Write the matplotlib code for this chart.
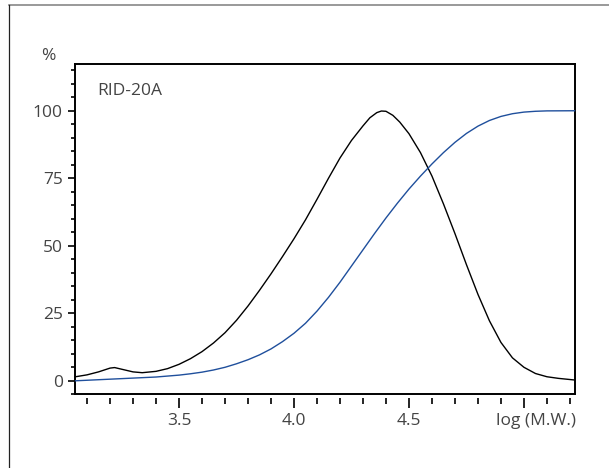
import numpy as np
import matplotlib
matplotlib.use("Agg")
import matplotlib.pyplot as plt
from matplotlib.lines import Line2D
from matplotlib.ticker import MultipleLocator, FixedLocator

plt.rcParams['font.family'] = ['Open Sans', 'DejaVu Sans']

# --- data ---
# molecular weight distribution (black)
dist_logmw = [3.05, 3.10, 3.15, 3.20, 3.22, 3.25, 3.30, 3.34, 3.40, 3.45,
              3.50, 3.55, 3.60, 3.65, 3.70, 3.75, 3.80, 3.85, 3.90, 3.95,
              4.00, 4.05, 4.10, 4.15, 4.20, 4.25, 4.30, 4.33, 4.36, 4.38,
              4.40, 4.43, 4.46, 4.50, 4.55, 4.60, 4.65, 4.70, 4.75, 4.80,
              4.85, 4.90, 4.95, 5.00, 5.05, 5.10, 5.15, 5.22]
dist_pct = [1.5, 2.2, 3.3, 4.7, 4.9, 4.3, 3.3, 3.0, 3.5, 4.5,
            6.1, 8.2, 10.8, 14.0, 17.8, 22.4, 27.7, 33.5, 39.6, 46.0,
            52.6, 59.6, 67.2, 75.0, 82.5, 89.0, 94.4, 97.4, 99.3, 99.9,
            99.8, 98.3, 95.8, 91.5, 84.5, 75.8, 65.5, 54.5, 43.0, 32.0,
            22.2, 14.2, 8.5, 5.0, 2.7, 1.5, 0.9, 0.3]

# cumulative curve (blue)
cum_logmw = [3.05, 3.10, 3.20, 3.30, 3.40, 3.50, 3.55, 3.60, 3.65, 3.70,
             3.75, 3.80, 3.85, 3.90, 3.95, 4.00, 4.05, 4.10, 4.15, 4.20,
             4.25, 4.30, 4.35, 4.40, 4.45, 4.50, 4.55, 4.60, 4.65, 4.70,
             4.75, 4.80, 4.85, 4.90, 4.95, 5.00, 5.05, 5.10, 5.22]
cum_pct = [0.0, 0.2, 0.6, 1.0, 1.4, 2.1, 2.6, 3.2, 4.0, 5.0,
           6.3, 7.8, 9.6, 11.8, 14.5, 17.6, 21.3, 25.8, 30.9, 36.5,
           42.5, 48.5, 54.5, 60.3, 65.8, 71.0, 75.8, 80.3, 84.5, 88.3,
           91.6, 94.3, 96.4, 97.9, 98.9, 99.5, 99.8, 99.95, 100.0]

y_ticks = [0, 25, 50, 75, 100]
x_ticks = [3.5, 4.0, 4.5, 5.0]
x_ticklabels = ["3.5", "4.0", "4.5", ""]

text_color = "#444444"
fs = 12.5

fig = plt.figure(figsize=(6.09, 4.68), dpi=100)
ax = fig.add_axes([75.3 / 609, 1 - 394.3 / 468, (575 - 75.3) / 609, (394.3 - 64.3) / 468])

ax.plot(dist_logmw, dist_pct, color="black", lw=1.0, clip_on=False, zorder=3,
        solid_joinstyle="round")
ax.plot(cum_logmw, cum_pct, color="#1f4f9c", lw=1.0, clip_on=False, zorder=3,
        solid_joinstyle="round")

ax.set_xlim(3.049, 5.222)
ax.set_ylim(-5, 117.2)

for s in ax.spines.values():
    s.set_linewidth(1.4)

# y axis ticks
ax.yaxis.set_major_locator(FixedLocator(y_ticks))
ax.yaxis.set_minor_locator(MultipleLocator(5))
ax.tick_params(axis="y", which="major", direction="out", length=5, width=1.2,
               labelsize=fs, labelcolor=text_color, pad=4)
ax.tick_params(axis="y", which="minor", direction="out", length=3, width=1.2)

# x axis: ticks drawn slightly below the frame
ax.tick_params(axis="x", which="both", bottom=False, labelbottom=False)
sec = ax.secondary_xaxis(-3.4 / 330)
sec.spines["bottom"].set_visible(False)
sec.xaxis.set_major_locator(FixedLocator(x_ticks))
sec.xaxis.set_minor_locator(MultipleLocator(0.1))
sec.set_xticklabels(x_ticklabels)
sec.tick_params(axis="x", which="major", direction="out", length=7.5, width=1.2,
                labelsize=fs, labelcolor=text_color, pad=3.5)
sec.tick_params(axis="x", which="minor", direction="out", length=4.3, width=1.2)

ax.text(0.043, 0.92, "RID-20A", transform=ax.transAxes, fontsize=fs,
        color=text_color, ha="left", va="center")
fig.text(48 / 609, 1 - 56 / 468, "%", fontsize=fs, color=text_color,
         ha="center", va="center")
fig.text(576 / 609, 1 - 421 / 468, "log (M.W.)", fontsize=fs, color=text_color,
         ha="right", va="center")

# outer frame lines
fig.add_artist(Line2D([9 / 609, 1], [1 - 5 / 468, 1 - 5 / 468],
                      transform=fig.transFigure, color="#888888", lw=1.2))
fig.add_artist(Line2D([9 / 609, 9 / 609], [0, 1 - 5 / 468],
                      transform=fig.transFigure, color="#222222", lw=0.9))

fig.savefig("out.png", dpi=100)
